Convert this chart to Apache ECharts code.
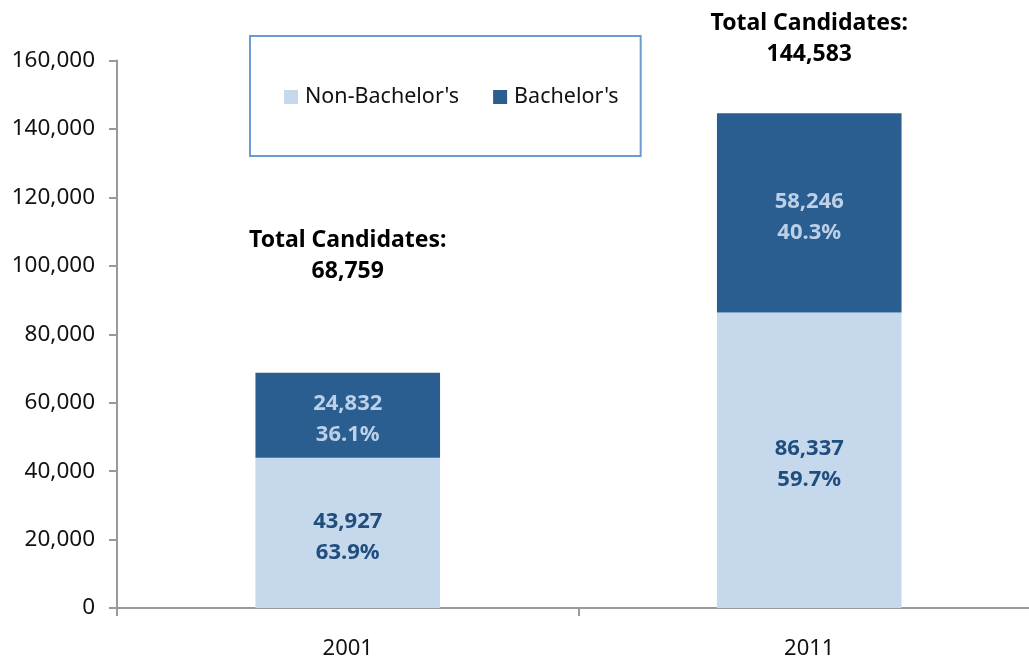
<!DOCTYPE html>
<html>
<head>
<meta charset="utf-8">
<script src="https://cdn.jsdelivr.net/npm/echarts@6/dist/echarts.min.js"></script>
<style>
  html, body { margin: 0; padding: 0; background: #fff; }
  #chart { width: 1029px; height: 660px; }
</style>
</head>
<body>
<div id="chart"></div>
<script>
const years = ['2001', '2011']
const nonBachelors = [43927, 86337]
const bachelors = [24832, 58246]
const nonBachelorsPct = ['63.9%', '59.7%']
const bachelorsPct = ['36.1%', '40.3%']
const totals = [68759, 144583]
const yTicks = [0, 20000, 40000, 60000, 80000, 100000, 120000, 140000, 160000]

// gap between bar top and the "Total Candidates" label
const totalLabelGap = [86, 43]

const font = 'Noto Sans'
const fmt = v => v.toLocaleString('en-US')

const myEcharts = echarts.init(document.getElementById('chart'))

const option = {
  animation: false,
  textStyle: { fontFamily: font },
  grid: {
    left: 117,
    width: 923,
    top: 60.5,
    bottom: 52,
    containLabel: false,
    outerBoundsMode: 'none'
  },
  legend: {
    data: ["Non-Bachelor's", "Bachelor's"],
    left: 250,
    top: 36,
    padding: [50, 22, 48, 34],
    borderColor: '#6C9BD2',
    borderWidth: 2,
    itemWidth: 14,
    itemHeight: 14,
    itemGap: 34,
    icon: 'rect',
    textStyle: {
      fontFamily: font,
      fontSize: 21.5,
      color: '#111',
      padding: [0, 0, 0, 2]
    }
  },
  xAxis: {
    type: 'category',
    data: years,
    boundaryGap: true,
    axisLine: { lineStyle: { color: '#999', width: 2 } },
    axisTick: { show: true, length: 8, lineStyle: { color: '#999', width: 2 } },
    axisLabel: { color: '#111', fontSize: 22, margin: 30, fontFamily: font }
  },
  yAxis: {
    type: 'value',
    min: yTicks[0],
    max: yTicks[yTicks.length - 1],
    interval: yTicks[1] - yTicks[0],
    splitLine: { show: false },
    axisLine: { show: true, lineStyle: { color: '#999', width: 2 } },
    axisTick: { show: true, length: 8, lineStyle: { color: '#999', width: 2 } },
    axisLabel: {
      color: '#111',
      fontSize: 22.5,
      margin: 22,
      padding: [5, 0, 0, 0],
      fontFamily: font,
      formatter: v => fmt(v)
    }
  },
  series: [
    {
      name: "Non-Bachelor's",
      type: 'bar',
      stack: 'total',
      data: nonBachelors,
      barWidth: '40%',
      itemStyle: { color: '#C5D8EC' },
      label: {
        show: true,
        position: 'inside',
        offset: [0, 4],
        fontFamily: font,
        fontWeight: 'bold',
        fontSize: 22,
        lineHeight: 31,
        color: '#1F4E7E',
        formatter: p => fmt(p.value) + '\n' + nonBachelorsPct[p.dataIndex]
      }
    },
    {
      name: "Bachelor's",
      type: 'bar',
      stack: 'total',
      data: bachelors,
      barWidth: '40%',
      itemStyle: { color: '#2A5E90' },
      label: {
        show: true,
        position: 'inside',
        offset: [0, 4],
        fontFamily: font,
        fontWeight: 'bold',
        fontSize: 22,
        lineHeight: 31,
        color: '#BCD0E8',
        formatter: p => fmt(p.value) + '\n' + bachelorsPct[p.dataIndex]
      }
    },
    {
      name: 'Total',
      type: 'bar',
      barGap: '-100%',
      barWidth: '40%',
      silent: true,
      z: 1,
      itemStyle: { color: 'rgba(0,0,0,0)' },
      data: totals.map((v, i) => ({
        value: v,
        label: { distance: totalLabelGap[i] }
      })),
      label: {
        show: true,
        position: 'top',
        fontFamily: font,
        fontWeight: 'bold',
        fontSize: 23,
        lineHeight: 31,
        color: '#000',
        formatter: p => 'Total Candidates:\n' + fmt(p.value)
      }
    }
  ]
}

myEcharts.setOption(option)
</script>
</body>
</html>
